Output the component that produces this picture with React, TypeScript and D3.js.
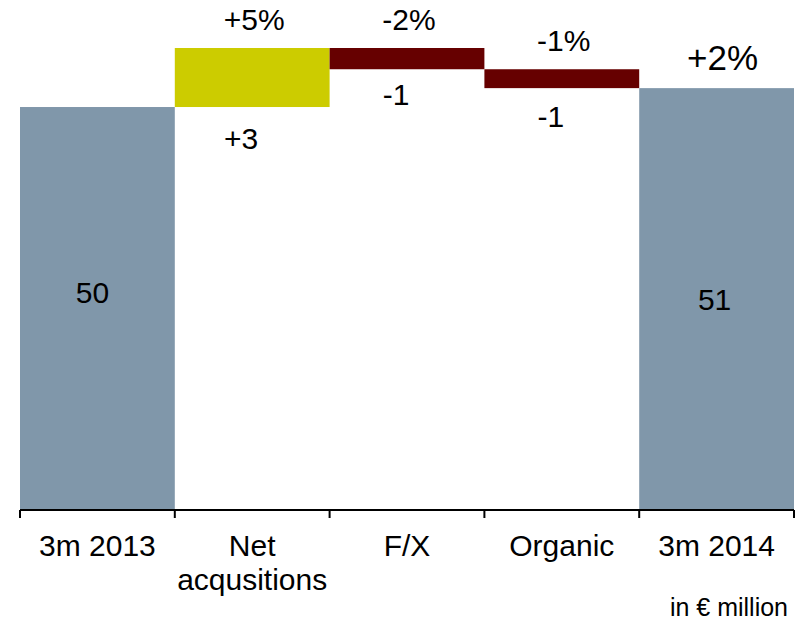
import React from "react";
import * as d3 from "d3";

const categories = ["3m 2013", "Net\nacqusitions", "F/X", "Organic", "3m 2014"];
const kinds = ["total", "delta", "delta", "delta", "total"];
// underlying values (€ million); totals are absolute, deltas are changes
const values = [50.2, 2.5, -0.9, -0.8, 51.0];
const valueLabels = ["50", "+3", "-1", "-1", "51"];
const pctLabels = ["", "+5%", "-2%", "-1%", "+2%"];
const unitNote = "in € million";

const W = 795;
const H = 631;
const FONT = "'Liberation Sans', Arial, Helvetica, sans-serif";
const COLORS = { total: "#8097AA", up: "#CCCC00", down: "#660000" };
// small per-column label nudges (layout only)
const belowGap = [0, 42, 36, 39, 0];
const totalDy = [-5.5, 0, 0, 0, 11];
const totalDx = [-5, 0, 0, 0, -2];

export default function App() {
  const x = d3.scaleBand<string>().domain(categories).range([20, 794]).padding(0);
  const y = d3.scaleLinear().domain([33.13, 52.7]).range([510, 48]);

  let running = 0;
  const segs = categories.map((c, i) => {
    if (kinds[i] === "total") {
      running = values[i];
      return { c, i, y0: y.domain()[0], y1: values[i], color: COLORS.total, total: true };
    }
    const start = running;
    running = running + values[i];
    return {
      c,
      i,
      y0: Math.min(start, running),
      y1: Math.max(start, running),
      color: values[i] >= 0 ? COLORS.up : COLORS.down,
      total: false,
    };
  });

  const bw = x.bandwidth();
  const ticks = [...categories.map((c) => x(c) as number), x.range()[1]];

  return (
    <svg
      width={W}
      height={H}
      style={{ position: "absolute", left: 0, top: 0, background: "#fff" }}
      fontFamily={FONT}
    >
      {segs.map((s) => {
        const x0 = x(s.c) as number;
        const top = y(s.y1);
        const bottom = y(s.y0);
        return (
          <g key={s.c}>
            <rect x={x0} y={top} width={bw} height={bottom - top} fill={s.color} />
            {s.total ? (
              <text
                x={x0 + bw / 2 + totalDx[s.i]}
                y={(top + bottom) / 2 + totalDy[s.i]}
                textAnchor="middle"
                fontSize={30}
                fill="#000"
              >
                {valueLabels[s.i]}
              </text>
            ) : (
              <text
                x={x0 + bw / 2 - 11}
                y={bottom + belowGap[s.i]}
                textAnchor="middle"
                fontSize={30}
                fill="#000"
              >
                {valueLabels[s.i]}
              </text>
            )}
            {pctLabels[s.i] && (
              <text
                x={x0 + bw / 2 + (s.total ? 6 : 2)}
                y={top - 18}
                textAnchor="middle"
                fontSize={s.total ? 35 : 30}
                fill="#000"
              >
                {pctLabels[s.i]}
              </text>
            )}
          </g>
        );
      })}

      <line x1={x.range()[0]} x2={x.range()[1]} y1={510} y2={510} stroke="#000" strokeWidth={2} />
      {ticks.map((t, i) => (
        <line key={i} x1={t} x2={t} y1={510} y2={518} stroke="#000" strokeWidth={2} />
      ))}
      {categories.map((c) => (
        <text key={c} textAnchor="middle" fontSize={30} fill="#000">
          {c.split("\n").map((line, j) => (
            <tspan key={j} x={(x(c) as number) + bw / 2} y={556 + j * 34}>
              {line}
            </tspan>
          ))}
        </text>
      ))}

      <text x={788} y={616} textAnchor="end" fontSize={25} fill="#000">
        {unitNote}
      </text>
    </svg>
  );
}
